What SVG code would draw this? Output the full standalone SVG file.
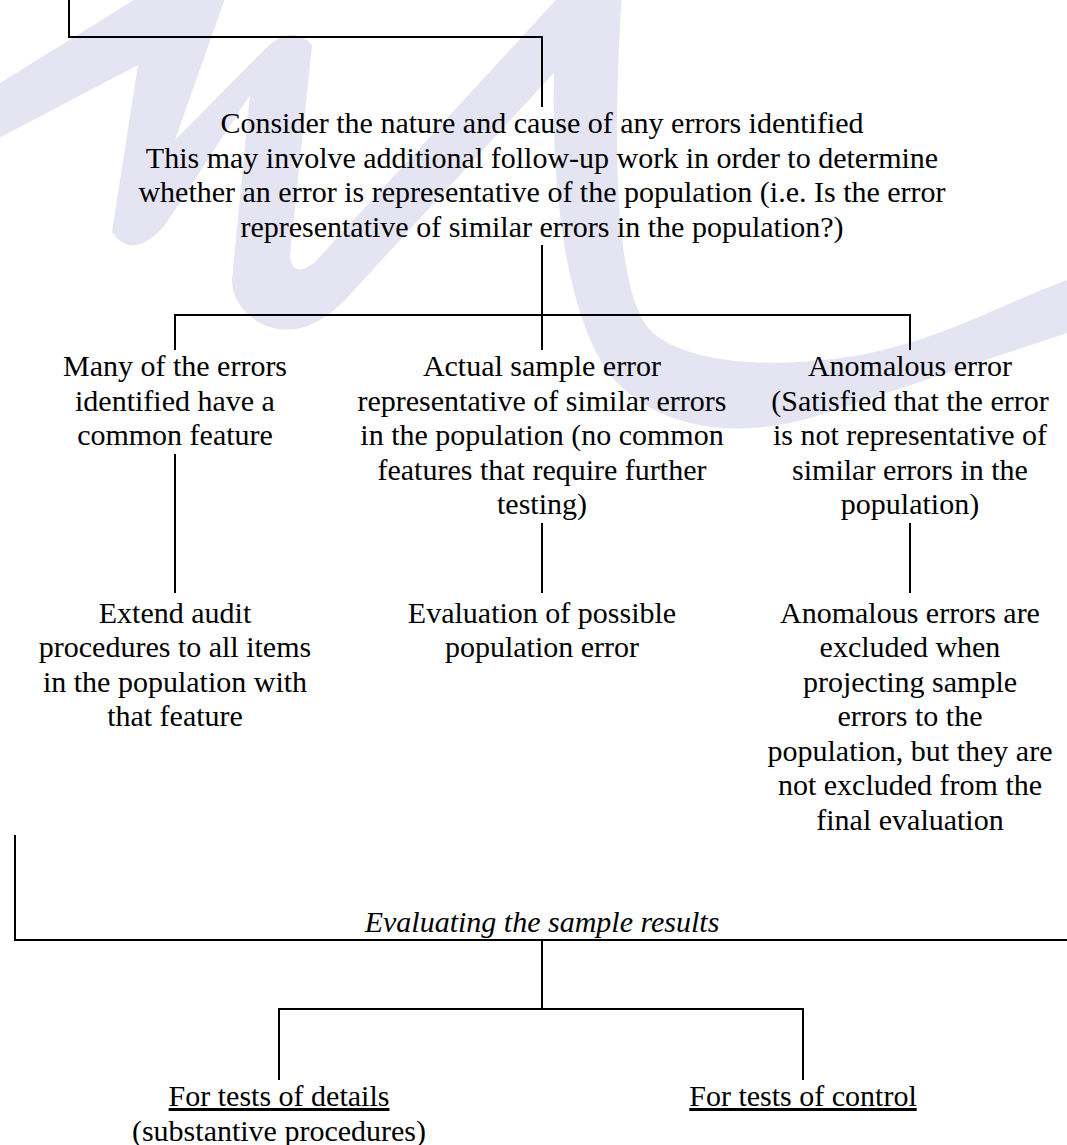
<svg xmlns="http://www.w3.org/2000/svg" width="1067" height="1145" viewBox="0 0 1067 1145">
<style>
.t{font-family:"Liberation Serif","Times New Roman",serif;font-size:30px;fill:#000;text-anchor:middle}
.i{font-style:italic}
.u{text-decoration:underline}
.c{stroke:#000;stroke-width:2;fill:none}
.wm{fill:#e4e4f2}
</style>
<rect width="1067" height="1145" fill="#fff"/>
<g id="watermark">
<path class="wm" d="M-5,86 L150,-10 L228,-10 L175,140 L262,52 Q290,22 312,45 L290,255 Q292,280 315,262 L565,-10 L630,-10 L345,300 Q300,345 258,322 Q232,305 232,280 L250,95 L165,225 Q132,262 112,232 L138,65 L-5,140 Z"/>
<path class="wm" d="M560,-10 C545,120 555,300 610,375 C660,432 740,440 820,415 L1067,333 L1067,280 C1000,305 940,340 860,355 C760,372 680,360 650,330 C615,290 612,150 622,-10 Z"/>
</g>
<g id="connectors">
<path class="c" d="M69,0 V37 H542 V107"/>
<path class="c" d="M542,245 V315"/>
<path class="c" d="M175,350 V315 H910 V350"/>
<path class="c" d="M542,315 V350"/>
<path class="c" d="M175,454 V593"/>
<path class="c" d="M542,523 V593"/>
<path class="c" d="M910,523 V593"/>
<path class="c" d="M15,835 V940 H1067"/>
<path class="c" d="M542,940 V1009"/>
<path class="c" d="M279,1080 V1009 H803 V1080"/>
</g>
<g id="n-consider">
<text class="t" x="542" y="133">Consider the nature and cause of any errors identified</text>
<text class="t" x="542" y="167.5">This may involve additional follow-up work in order to determine</text>
<text class="t" x="542" y="202">whether an error is representative of the population (i.e. Is the error</text>
<text class="t" x="542" y="236.5">representative of similar errors in the population?)</text>
</g>
<g id="n-common">
<text class="t" x="175" y="376">Many of the errors</text>
<text class="t" x="175" y="410.5">identified have a</text>
<text class="t" x="175" y="445">common feature</text>
</g>
<g id="n-actual">
<text class="t" x="542" y="376">Actual sample error</text>
<text class="t" x="542" y="410.5">representative of similar errors</text>
<text class="t" x="542" y="445">in the population (no common</text>
<text class="t" x="542" y="479.5">features that require further</text>
<text class="t" x="542" y="514">testing)</text>
</g>
<g id="n-anomalous">
<text class="t" x="910" y="376">Anomalous error</text>
<text class="t" x="910" y="410.5">(Satisfied that the error</text>
<text class="t" x="910" y="445">is not representative of</text>
<text class="t" x="910" y="479.5">similar errors in the</text>
<text class="t" x="910" y="514">population)</text>
</g>
<g id="n-extend">
<text class="t" x="175" y="622.5">Extend audit</text>
<text class="t" x="175" y="657">procedures to all items</text>
<text class="t" x="175" y="691.5">in the population with</text>
<text class="t" x="175" y="726">that feature</text>
</g>
<g id="n-evaluation">
<text class="t" x="542" y="622.5">Evaluation of possible</text>
<text class="t" x="542" y="657">population error</text>
</g>
<g id="n-excluded">
<text class="t" x="910" y="622.5">Anomalous errors are</text>
<text class="t" x="910" y="657">excluded when</text>
<text class="t" x="910" y="691.5">projecting sample</text>
<text class="t" x="910" y="726">errors to the</text>
<text class="t" x="910" y="760.5">population, but they are</text>
<text class="t" x="910" y="795">not excluded from the</text>
<text class="t" x="910" y="829.5">final evaluation</text>
</g>
<g id="n-evaluating">
<text class="t i" x="542" y="932">Evaluating the sample results</text>
</g>
<g id="n-details">
<text class="t u" x="279" y="1106">For tests of details</text>
<text class="t" x="279" y="1140.5">(substantive procedures)</text>
</g>
<g id="n-control">
<text class="t u" x="803" y="1106">For tests of control</text>
</g>
</svg>
